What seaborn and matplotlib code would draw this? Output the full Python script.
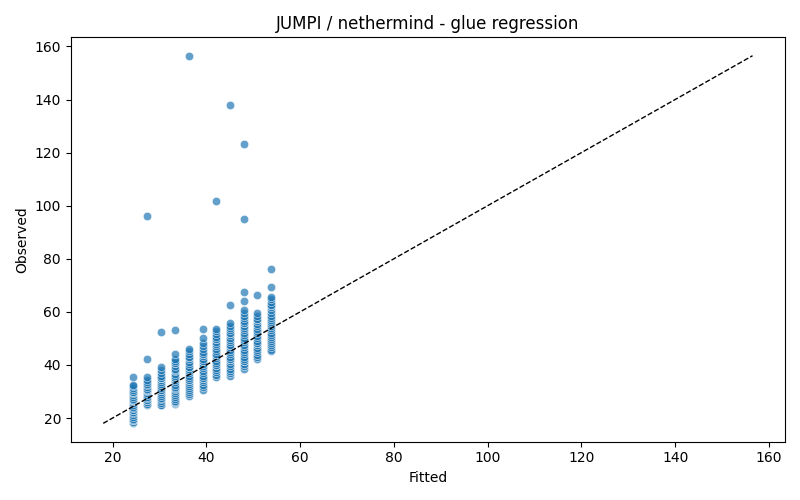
import matplotlib
matplotlib.use("Agg")
import matplotlib.pyplot as plt
import seaborn as sns
import pandas as pd

# fitted value of each column and the observed values stacked at it
# (repeated values show up as the darker spots in the columns)
fitted_levels = [24.3, 27.3, 30.3, 33.3, 36.2, 39.2, 42.1, 45.1, 48.0, 50.9, 53.8]

obs_243 = [18.0, 18.6, 19.2, 19.2, 19.8, 20.5, 21.1, 21.8, 22.4, 23.0, 23.0, 23.6,
           24.3, 25.0, 25.7, 26.4, 26.8, 26.8, 27.1, 27.8, 28.6, 29.3, 29.9, 29.9,
           30.6, 31.3, 32.1, 32.4, 35.5]
obs_273 = [24.8, 25.3, 26.0, 26.7, 26.8, 27.4, 28.1, 28.8, 29.5, 30.2, 30.5, 30.5,
           30.9, 31.6, 32.3, 33.0, 33.7, 34.4, 35.3, 42.1, 96.2]
obs_303 = [24.9, 24.9, 25.6, 26.3, 27.0, 27.7, 28.4, 29.1, 29.8, 30.5, 30.5, 31.3,
           32.0, 32.8, 33.6, 34.4, 35.0, 35.0, 35.1, 35.9, 37.0, 38.2, 39.1, 52.3]
obs_333 = [25.1, 25.8, 26.0, 26.0, 26.5, 27.3, 28.0, 28.8, 29.5, 30.3, 31.0, 31.3,
           31.8, 32.6, 33.4, 34.2, 35.0, 35.0, 35.8, 36.7, 37.6, 38.0, 38.5, 39.5,
           40.6, 40.7, 41.5, 42.4, 44.1, 53.2]
obs_362 = [28.4, 29.0, 29.7, 30.5, 31.2, 32.0, 32.8, 33.6, 34.4, 34.4, 35.2, 36.0,
           36.8, 37.6, 38.5, 39.4, 39.4, 40.3, 41.2, 42.1, 43.0, 43.0, 44.0, 45.1,
           45.9, 156.5]
obs_392 = [30.5, 31.7, 32.6, 33.4, 34.3, 35.1, 35.1, 36.0, 36.9, 37.8, 38.7, 39.6,
           40.5, 41.4, 41.4, 42.3, 43.2, 44.1, 44.1, 45.0, 46.0, 47.1, 48.2, 50.1, 53.5]
obs_421 = [35.6, 36.4, 37.2, 38.0, 38.9, 39.8, 39.8, 40.7, 41.6, 42.5, 43.4, 44.3,
           44.3, 45.2, 46.1, 47.0, 47.9, 48.8, 49.7, 49.7, 50.7, 51.8, 52.8, 53.5, 101.8]
obs_451 = [35.9, 36.8, 37.7, 38.6, 39.5, 40.4, 41.3, 42.2, 42.2, 43.1, 44.0, 44.9,
           45.8, 46.7, 47.6, 47.6, 48.5, 49.4, 50.3, 51.2, 52.1, 52.1, 53.0, 53.9,
           54.8, 55.8, 62.5, 138.0]
obs_480 = [38.6, 39.5, 40.4, 41.3, 41.3, 42.2, 43.1, 44.0, 44.9, 45.8, 46.7, 47.6,
           48.5, 49.4, 50.3, 51.2, 52.1, 53.0, 53.9, 54.8, 55.7, 55.7, 56.6, 57.6,
           58.6, 59.6, 60.6, 64.1, 67.6, 95.0, 123.2]
obs_509 = [42.4, 43.1, 43.9, 44.7, 45.6, 46.5, 47.4, 48.3, 48.3, 49.2, 50.1, 51.0,
           51.9, 52.8, 53.7, 54.6, 55.5, 56.4, 57.3, 57.3, 58.3, 59.4, 66.2]
obs_538 = [45.1, 45.8, 46.6, 47.4, 48.2, 49.0, 49.8, 50.6, 51.4, 52.2, 53.0, 53.8,
           54.6, 55.4, 56.2, 57.0, 57.8, 58.6, 59.6, 60.6, 61.8, 62.6, 62.6, 63.8,
           64.8, 65.6, 69.3, 76.1]

observed_by_level = [obs_243, obs_273, obs_303, obs_333, obs_362, obs_392,
                     obs_421, obs_451, obs_480, obs_509, obs_538]

rows = []
for fit, obs in zip(fitted_levels, observed_by_level):
    for o in obs:
        rows.append({"fitted": fit, "observed": o})
df = pd.DataFrame(rows)

fig, ax = plt.subplots(figsize=(8, 5), dpi=100)
sns.scatterplot(data=df, x="fitted", y="observed", alpha=0.7, ax=ax)

lo = min(df["fitted"].min(), df["observed"].min())
hi = max(df["fitted"].max(), df["observed"].max())
ax.plot([lo, hi], [lo, hi], "k--", linewidth=1)

ax.set_xlabel("Fitted")
ax.set_ylabel("Observed")
ax.set_title("JUMPI / nethermind - glue regression")
plt.tight_layout()
plt.savefig("out.png")
plt.close()
